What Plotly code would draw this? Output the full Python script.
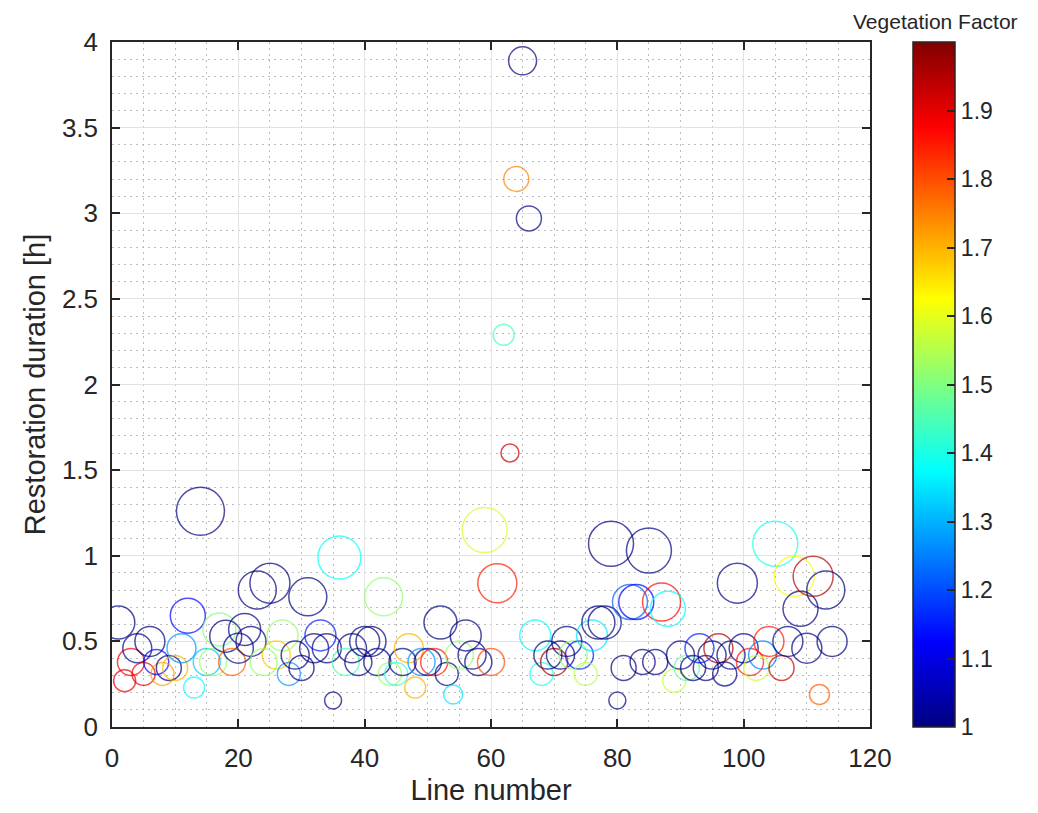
import plotly.graph_objects as go

line_number = list(range(1, 115))

duration = [
    0.61, 0.27, 0.38, 0.46, 0.31, 0.50, 0.38, 0.31, 0.345, 0.345,
    0.46, 0.65, 0.23, 1.26, 0.38, 0.38, 0.57, 0.53, 0.38, 0.46,
    0.57, 0.50, 0.80, 0.38, 0.84, 0.42, 0.535, 0.31, 0.42, 0.345,
    0.76, 0.46, 0.535, 0.46, 0.155, 0.99, 0.38, 0.46, 0.38, 0.50,
    0.50, 0.38, 0.76, 0.31, 0.31, 0.38, 0.46, 0.23, 0.38, 0.38,
    0.38, 0.61, 0.31, 0.19, 0.42, 0.535, 0.42, 0.38, 1.15, 0.38,
    0.84, 2.29, 1.60, 3.20, 3.89, 2.97, 0.535, 0.31, 0.42, 0.38,
    0.42, 0.50, 0.42, 0.42, 0.31, 0.535, 0.61, 0.61, 1.07, 0.155,
    0.345, 0.73, 0.73, 0.38, 1.03, 0.38, 0.73, 0.69, 0.27, 0.42,
    0.345, 0.345, 0.46, 0.345, 0.42, 0.46, 0.31, 0.42, 0.84, 0.46,
    0.38, 0.345, 0.42, 0.50, 1.07, 0.345, 0.50, 0.88, 0.69, 0.46,
    0.88, 0.19, 0.80, 0.50,
]

vegetation = [
    1.00, 1.90, 1.88, 1.00, 1.90, 1.00, 1.12, 1.72, 1.00, 1.70,
    1.27, 1.13, 1.38, 1.00, 1.32, 1.52, 1.50, 1.00, 1.78, 1.02,
    1.00, 1.00, 1.00, 1.52, 1.00, 1.68, 1.52, 1.27, 1.00, 1.00,
    1.00, 1.00, 1.15, 1.00, 1.00, 1.38, 1.45, 1.00, 1.00, 1.00,
    1.00, 1.00, 1.52, 1.52, 1.42, 1.00, 1.70, 1.70, 1.27, 1.00,
    1.85, 1.00, 1.00, 1.35, 1.52, 1.00, 1.00, 1.00, 1.58, 1.80,
    1.85, 1.45, 1.93, 1.75, 1.00, 1.00, 1.37, 1.40, 1.00, 1.97,
    1.00, 1.00, 1.52, 1.15, 1.55, 1.35, 1.00, 1.00, 1.00, 1.00,
    1.00, 1.22, 1.12, 1.00, 1.00, 1.00, 1.87, 1.37, 1.57, 1.00,
    1.47, 1.00, 1.15, 1.00, 1.00, 1.95, 1.00, 1.00, 1.00, 1.00,
    1.85, 1.57, 1.25, 1.85, 1.40, 1.93, 1.00, 1.62, 1.00, 1.00,
    1.95, 1.78, 1.00, 1.00,
]

circle_size = [
    33, 22, 27, 29, 23, 30, 25, 23, 25, 25,
    29, 35, 21, 48, 27, 27, 33, 32, 27, 30,
    32, 30, 38, 27, 40, 28, 31, 23, 28, 25,
    38, 29, 31, 29, 17, 43, 27, 29, 27, 30,
    30, 27, 38, 23, 23, 27, 29, 21, 27, 27,
    27, 33, 23, 19, 28, 31, 28, 27, 45, 27,
    39, 21, 18, 25, 28, 25, 31, 23, 28, 27,
    28, 30, 28, 28, 23, 31, 33, 33, 45, 17,
    25, 35, 35, 25, 45, 25, 38, 35, 23, 28,
    25, 25, 29, 25, 28, 29, 24, 28, 40, 29,
    27, 25, 28, 30, 45, 25, 30, 40, 35, 30,
    40, 20, 38, 30,
]

x_ticks = [0, 20, 40, 60, 80, 100, 120]
y_ticks = [0, 0.5, 1, 1.5, 2, 2.5, 3, 3.5, 4]
y_tick_text = ["0", "0.5", "1", "1.5", "2", "2.5", "3", "3.5", "4"]
cbar_ticks = [1, 1.1, 1.2, 1.3, 1.4, 1.5, 1.6, 1.7, 1.8, 1.9]
cbar_tick_text = ["1", "1.1", "1.2", "1.3", "1.4", "1.5", "1.6", "1.7", "1.8", "1.9"]

jet = [
    [0.0, "rgb(0,0,128)"],
    [0.125, "rgb(0,0,255)"],
    [0.375, "rgb(0,255,255)"],
    [0.625, "rgb(255,255,0)"],
    [0.875, "rgb(255,0,0)"],
    [1.0, "rgb(128,0,0)"],
]

TXT = "#262626"
FONT = "Liberation Sans, Arial, sans-serif"

fig = go.Figure()
fig.add_trace(go.Scatter(
    x=line_number, y=duration, mode="markers",
    marker=dict(
        symbol="circle-open",
        size=circle_size,
        color=vegetation,
        colorscale=jet,
        cmin=1, cmax=2,
        line=dict(width=1.5),
        colorbar=dict(
            x=1.0567, xanchor="left", xpad=0,
            y=0.5, yanchor="middle", ypad=0, len=1.0,
            thickness=42,
            outlinewidth=1.5, outlinecolor=TXT,
            tickvals=cbar_ticks, ticktext=cbar_tick_text,
            ticks="inside", ticklen=8, tickwidth=1.5, tickcolor=TXT,
            tickfont=dict(size=23, color=TXT, family=FONT),
            ticklabelposition="outside",
        ),
    ),
    showlegend=False,
    hoverinfo="x+y",
))

axis_common = dict(
    showline=True, linecolor=TXT, linewidth=1.5, mirror="ticks",
    ticks="inside", ticklen=8, tickwidth=1.5, tickcolor=TXT,
    showgrid=True, gridcolor="#e3e3e3", gridwidth=1,
    zeroline=False,
    tickfont=dict(size=26, color=TXT, family=FONT),
)

minor_grid = dict(showgrid=True, gridcolor="#bdbdbd", griddash="1.5px,4.5px",
                  gridwidth=1, ticks="")

fig.update_xaxes(
    range=[0, 120], tickvals=x_ticks,
    minor=dict(dtick=5, tick0=0, **minor_grid),
    title=dict(text="Line number", font=dict(size=29, color=TXT, family=FONT), standoff=8),
    ticklabelstandoff=7,
    **axis_common,
)
fig.update_yaxes(
    range=[0, 4], tickvals=y_ticks, ticktext=y_tick_text,
    minor=dict(dtick=0.1, tick0=0, **minor_grid),
    title=dict(text="Restoration duration [h]", font=dict(size=29, color=TXT, family=FONT), standoff=8),
    ticklabelstandoff=7,
    **axis_common,
)

fig.add_annotation(
    text="Vegetation Factor", xref="paper", yref="paper",
    x=1.0858, y=1.0292, xanchor="center", yanchor="middle",
    showarrow=False, font=dict(size=21, color=TXT, family=FONT),
)

fig.update_layout(
    width=1030, height=805,
    margin=dict(l=104, r=168, t=34, b=86, autoexpand=False),
    plot_bgcolor="white", paper_bgcolor="white",
    font=dict(family=FONT, color=TXT),
)

fig.write_html("out.html")
